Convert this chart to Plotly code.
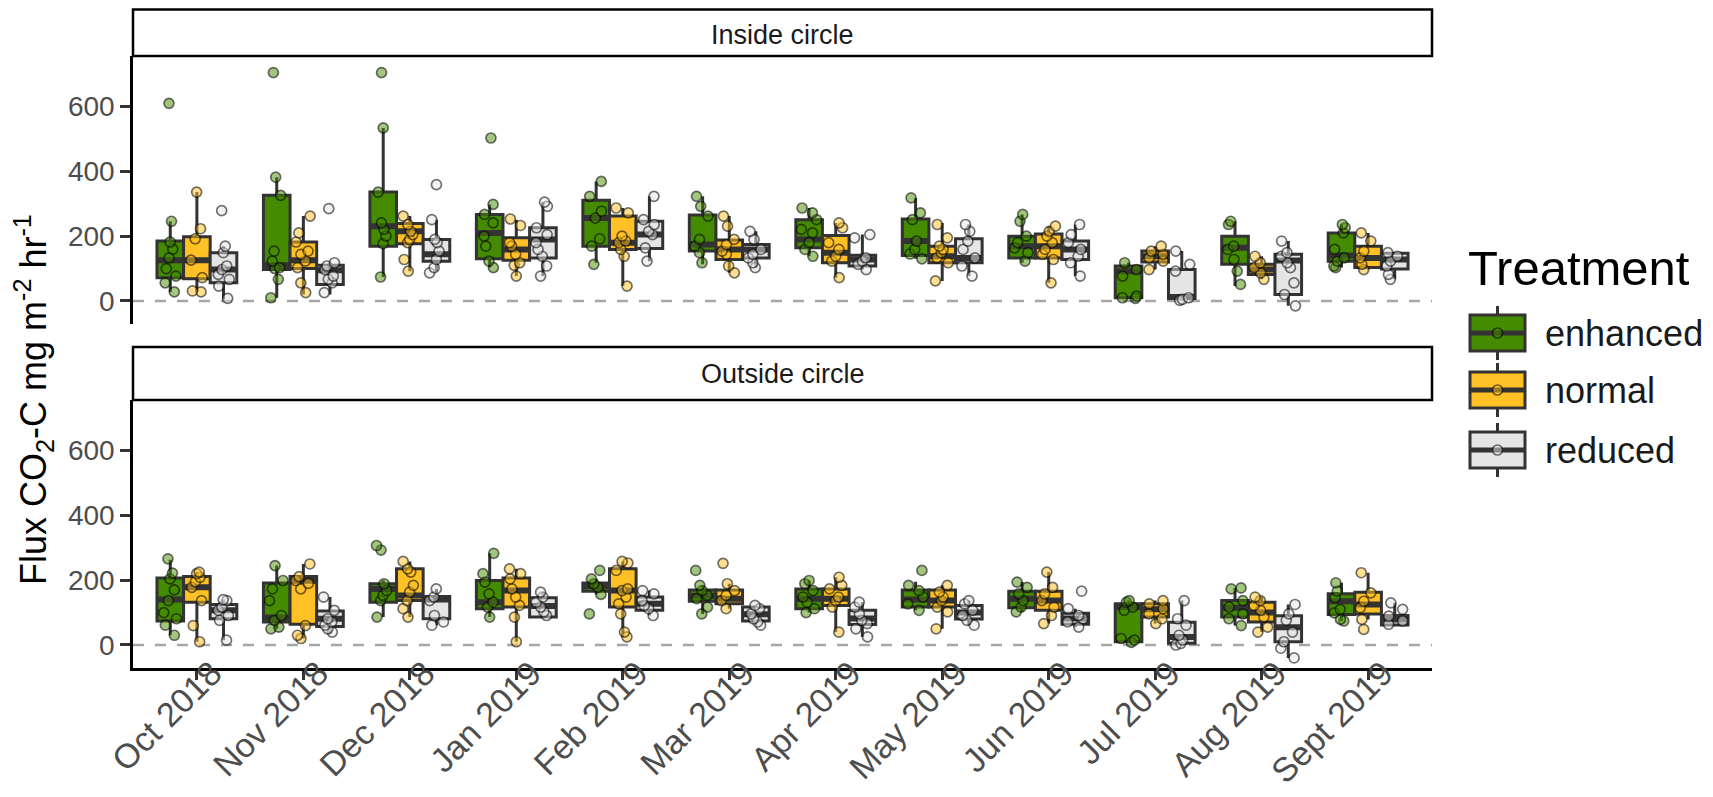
import plotly.graph_objects as go

# page body adds an 8 px offset; the figure is sized to fit the 1713x797 window
OFF = 8
W, H = 1713 - 2 * OFF, 797 - 2 * OFF

months = ["Oct 2018", "Nov 2018", "Dec 2018", "Jan 2019", "Feb 2019", "Mar 2019",
          "Apr 2019", "May 2019", "Jun 2019", "Jul 2019", "Aug 2019", "Sept 2019"]
treatments = ["enhanced", "normal", "reduced"]
box_fills = ["#458B00", "#FFC125", "#E5E5E5"]
point_fills = ["rgba(69,139,0,0.5)", "rgba(255,193,37,0.5)", "rgba(229,229,229,0.5)"]
panel_titles = ["Inside circle", "Outside circle"]
y_ticks = [0, 200, 400, 600]
y_title = "Flux CO<sub>2</sub>-C mg m<sup>-2</sup> hr<sup>-1</sup>"
legend_title = "Treatment"

# box statistics per month: [lower whisker, q1, median, q3, upper whisker]
inside_enhanced_box = [[28, 72, 126, 185, 246], [10, 97, 110, 326, 382], [74, 169, 231, 336, 534],
                       [103, 130, 210, 267, 298], [118, 169, 256, 311, 369], [113, 154, 174, 265, 323],
                       [138, 164, 190, 251, 287], [130, 140, 185, 253, 318], [118, 133, 169, 200, 267],
                       [5, 10, 92, 108, 118], [46, 113, 164, 200, 246], [103, 123, 140, 210, 236]]
inside_normal_box = [[28, 69, 126, 198, 336], [20, 100, 126, 182, 262], [92, 177, 215, 239, 262],
                     [77, 126, 159, 195, 251], [46, 159, 180, 262, 287], [87, 128, 159, 188, 262],
                     [72, 118, 149, 202, 241], [62, 118, 138, 169, 241], [56, 133, 169, 207, 231],
                     [97, 120, 138, 154, 169], [67, 82, 97, 113, 138], [97, 103, 133, 169, 210]]
inside_reduced_box = [[5, 56, 97, 149, 169], [20, 51, 95, 110, 118], [92, 123, 144, 190, 251],
                      [77, 133, 190, 226, 305], [123, 162, 205, 246, 323], [103, 133, 159, 174, 215],
                      [97, 108, 128, 141, 205], [77, 118, 133, 192, 236], [77, 128, 159, 185, 236],
                      [0, 8, 12, 97, 154], [-15, 20, 125, 144, 185], [67, 99, 128, 147, 150]]
outside_enhanced_box = [[30, 74, 140, 207, 263], [50, 71, 85, 191, 245], [86, 132, 173, 189, 200],
                        [86, 112, 132, 199, 283], [156, 166, 181, 191, 204], [96, 135, 152, 170, 184],
                        [100, 112, 143, 173, 199], [107, 117, 140, 170, 195], [102, 115, 143, 166, 194],
                        [5, 10, 117, 127, 137], [60, 86, 115, 137, 176], [74, 94, 135, 158, 192]]
outside_normal_box = [[10, 132, 178, 211, 225], [20, 64, 198, 211, 250], [86, 137, 153, 235, 258],
                      [10, 117, 168, 207, 235], [25, 117, 168, 235, 258], [112, 127, 143, 170, 189],
                      [40, 122, 143, 173, 209], [50, 117, 137, 170, 184], [66, 107, 137, 166, 225],
                      [66, 86, 110, 127, 137], [40, 71, 100, 132, 148], [79, 96, 125, 163, 223]]
outside_reduced_box = [[15, 81, 107, 125, 140], [35, 57, 81, 105, 148], [61, 81, 140, 150, 173],
                       [82, 86, 120, 146, 163], [91, 107, 127, 148, 168], [61, 74, 95, 117, 122],
                       [25, 63, 82, 107, 132], [61, 80, 100, 122, 137], [55, 64, 82, 98, 112],
                       [0, 5, 25, 70, 137], [-40, 10, 55, 90, 125], [62, 62, 79, 91, 130]]

# individual measurements per month
inside_enhanced_pts = [[610, 246, 182, 160, 133, 100, 77, 56, 28], [705, 382, 326, 154, 123, 103, 100, 67, 10],
                       [705, 534, 336, 241, 221, 200, 177, 74], [503, 298, 267, 241, 200, 169, 123, 103],
                       [369, 323, 277, 256, 192, 169, 113], [323, 292, 262, 190, 169, 149, 118],
                       [287, 272, 251, 221, 210, 180, 159, 138], [318, 272, 251, 185, 159, 145, 130],
                       [267, 246, 200, 180, 164, 149, 123], [118, 97, 77, 15, 10, 8],
                       [246, 236, 169, 159, 128, 92, 51], [236, 226, 210, 159, 133, 123, 108, 103]]
inside_normal_pts = [[336, 223, 192, 126, 72, 31, 28], [262, 210, 182, 154, 144, 123, 103, 56, 26],
                     [262, 236, 215, 205, 190, 180, 128, 92], [253, 233, 180, 169, 144, 118, 110, 77],
                     [287, 272, 200, 185, 180, 159, 138, 46], [262, 231, 190, 174, 154, 144, 108, 87],
                     [241, 226, 180, 159, 138, 123, 72], [236, 195, 169, 159, 149, 133, 118, 62],
                     [231, 215, 200, 180, 159, 144, 128, 56], [169, 154, 144, 133, 123, 97],
                     [138, 118, 103, 87, 67], [210, 185, 154, 133, 113, 97]]
inside_reduced_pts = [[279, 169, 149, 108, 97, 82, 67, 46, 8], [285, 118, 108, 97, 77, 67, 56, 26],
                      [359, 251, 190, 180, 154, 128, 103, 87], [305, 292, 226, 205, 180, 159, 138, 108, 77],
                      [323, 251, 236, 215, 205, 164, 123], [215, 190, 159, 144, 133, 118, 103],
                      [205, 195, 133, 123, 113, 97], [236, 215, 185, 159, 133, 108, 77],
                      [236, 205, 180, 159, 138, 118, 77], [154, 113, 92, 10, 5, 2],
                      [185, 149, 138, 118, 103, 56, 20, -15], [149, 138, 123, 108, 82, 67]]
outside_enhanced_pts = [[266, 222, 204, 170, 137, 100, 81, 61, 30], [245, 199, 173, 137, 91, 76, 55, 50],
                        [307, 293, 189, 168, 153, 137, 86], [283, 220, 194, 158, 132, 117, 86],
                        [230, 204, 189, 178, 156, 96], [230, 184, 168, 153, 143, 117, 96],
                        [199, 189, 168, 148, 132, 112, 100], [230, 184, 168, 148, 127, 107],
                        [194, 178, 158, 137, 117, 102], [137, 132, 117, 107, 20, 15, 8],
                        [176, 173, 137, 117, 96, 81, 60], [192, 166, 146, 110, 99, 79, 74]]
outside_normal_pts = [[225, 220, 209, 195, 178, 137, 60, 10], [250, 211, 199, 190, 173, 60, 30, 20],
                      [258, 235, 225, 184, 163, 137, 112, 86], [235, 220, 204, 173, 148, 122, 86, 10],
                      [258, 253, 230, 173, 168, 148, 127, 96, 40, 25], [252, 189, 168, 153, 137, 112],
                      [209, 184, 173, 148, 137, 117, 40], [184, 163, 148, 137, 117, 102, 50],
                      [225, 178, 158, 137, 117, 91, 66], [137, 127, 112, 96, 81, 66],
                      [148, 137, 122, 107, 86, 55, 40], [223, 161, 135, 115, 79, 48]]
outside_reduced_pts = [[140, 137, 117, 107, 91, 76, 15], [148, 107, 81, 71, 61, 50, 40],
                       [173, 148, 137, 91, 71, 61], [163, 148, 132, 117, 102, 91],
                       [168, 158, 137, 122, 112, 91], [122, 112, 96, 81, 71, 61],
                       [132, 117, 96, 76, 66, 50, 25], [137, 127, 107, 91, 76, 61],
                       [166, 112, 91, 81, 71, 55], [137, 81, 61, 30, 15, 5, 0],
                       [125, 96, 76, 40, 10, -10, -40], [130, 110, 89, 74, 64]]

panels_box = [[inside_enhanced_box, inside_normal_box, inside_reduced_box],
              [outside_enhanced_box, outside_normal_box, outside_reduced_box]]
panels_pts = [[inside_enhanced_pts, inside_normal_pts, inside_reduced_pts],
              [outside_enhanced_pts, outside_normal_pts, outside_reduced_pts]]

# ---------------- layout geometry (window pixels) ----------------
def px(x):
    return (x - OFF) / W

def py(y):
    return 1 - (y - OFF) / H

FONT = "Liberation Sans, Arial, sans-serif"
DARK = "#333333"
XD = [px(133), px(1432)]
panel_px = [(56, 324), (400, 668)]
strip_px = [(9.5, 56), (347, 400)]
y_range = [-71, 756]

fig = go.Figure()

for p in range(2):
    xa = "x" if p == 0 else "x2"
    ya = "y" if p == 0 else "y2"
    for t, name in enumerate(treatments):
        stats = panels_box[p][t]
        lo = [s[0] for s in stats]
        q1 = [s[1] for s in stats]
        med = [s[2] for s in stats]
        q3 = [s[3] for s in stats]
        hi = [s[4] for s in stats]
        fig.add_trace(go.Box(
            x=months, q1=q1, median=med, q3=q3, lowerfence=lo, upperfence=hi,
            boxpoints=False, fillcolor=box_fills[t], line=dict(color=DARK, width=3),
            whiskerwidth=0, offsetgroup=name, name=name, showlegend=False,
            xaxis=xa, yaxis=ya, hoverinfo="skip"))
        # thick median band
        fig.add_trace(go.Box(
            x=months, q1=med, median=med, q3=med, lowerfence=med, upperfence=med,
            boxpoints=False, fillcolor=DARK, line=dict(color=DARK, width=6),
            whiskerwidth=0, offsetgroup=name, name=name, showlegend=False,
            xaxis=xa, yaxis=ya, hoverinfo="skip"))
    for t, name in enumerate(treatments):
        xs, ys = [], []
        for m, vals in zip(months, panels_pts[p][t]):
            xs += [m] * len(vals)
            ys += vals
        fig.add_trace(go.Box(
            x=xs, y=ys, boxpoints="all", jitter=0.6, pointpos=0,
            fillcolor="rgba(0,0,0,0)", line=dict(width=0, color="rgba(0,0,0,0)"),
            whiskerwidth=0, offsetgroup=name, name=name, showlegend=False,
            marker=dict(size=10, color=point_fills[t],
                        line=dict(width=1.7, color="rgba(0,0,0,0.55)")),
            xaxis=xa, yaxis=ya, hoveron="points"))

axis_common = dict(showgrid=False, zeroline=False, automargin=False)
yax = dict(range=y_range, tickvals=y_ticks, ticks="outside", ticklen=10, tickwidth=2.5,
           tickcolor=DARK, showline=True, linecolor="black", linewidth=2.5,
           tickfont=dict(family=FONT, size=28, color="#4D4D4D"), **axis_common)

fig.update_layout(
    width=W, height=H, margin=dict(l=0, r=0, t=0, b=0), autosize=False,
    paper_bgcolor="white", plot_bgcolor="white",
    boxmode="group", boxgap=0.25, boxgroupgap=0,
    showlegend=False,
    xaxis=dict(domain=XD, anchor="y", type="category", categoryorder="array",
               categoryarray=months, range=[-0.6, 11.6], showline=False,
               showticklabels=False, ticks="", **axis_common),
    xaxis2=dict(domain=XD, anchor="y2", type="category", categoryorder="array",
                categoryarray=months, range=[-0.6, 11.6], matches="x",
                showline=True, linecolor="black", linewidth=2.5,
                ticks="outside", ticklen=9, tickwidth=2.5, tickcolor=DARK,
                tickangle=-45, ticklabelstandoff=-40, ticklabelshift=15,
                tickfont=dict(family=FONT, size=34, color="#4D4D4D"),
                **axis_common),
    yaxis=dict(domain=[py(panel_px[0][1]), py(panel_px[0][0])], anchor="x", **yax),
    yaxis2=dict(domain=[py(panel_px[1][1]), py(panel_px[1][0])], anchor="x2", **yax),
)

shapes = []
annotations = []
for p in range(2):
    ydom = "y" if p == 0 else "y2"
    xdom = "x domain" if p == 0 else "x2 domain"
    shapes.append(dict(type="line", xref=xdom, yref=ydom, x0=0, x1=1, y0=0, y1=0,
                       line=dict(color="#A6A6A6", width=2.5, dash="11px,11px"), layer="below"))
    s0, s1 = strip_px[p]
    shapes.append(dict(type="rect", xref="paper", yref="paper", x0=XD[0], x1=XD[1],
                       y0=py(s1), y1=py(s0), fillcolor="white",
                       line=dict(color="black", width=2.5)))
    annotations.append(dict(text=panel_titles[p], xref="paper", yref="paper",
                            x=(XD[0] + XD[1]) / 2, y=py((s0 + s1) / 2 + (2 if p == 0 else 0)),
                            xanchor="center", yanchor="middle", showarrow=False,
                            font=dict(family=FONT, size=27, color="#1A1A1A")))

annotations.append(dict(text=y_title, xref="paper", yref="paper", x=px(33),
                        y=py(400), textangle=-90,
                        xanchor="center", yanchor="middle", showarrow=False,
                        font=dict(family=FONT, size=36, color="black")))

# legend (drawn as boxplot keys like the reference)
annotations.append(dict(text=legend_title, xref="paper", yref="paper", x=px(1466), y=py(268),
                        xanchor="left", yanchor="middle", showarrow=False,
                        font=dict(family=FONT, size=49, color="black")))
key_centers = [333, 390, 450]
for t, name in enumerate(treatments):
    cy = key_centers[t]
    kx0, kx1 = 1470, 1525
    kc = (kx0 + kx1) / 2
    shapes.append(dict(type="line", xref="paper", yref="paper", x0=px(kc), x1=px(kc),
                       y0=py(cy - 27), y1=py(cy + 27), line=dict(color=DARK, width=3)))
    shapes.append(dict(type="rect", xref="paper", yref="paper", x0=px(kx0), x1=px(kx1),
                       y0=py(cy + 18), y1=py(cy - 18), fillcolor=box_fills[t],
                       line=dict(color=DARK, width=3)))
    shapes.append(dict(type="line", xref="paper", yref="paper", x0=px(kx0), x1=px(kx1),
                       y0=py(cy), y1=py(cy), line=dict(color=DARK, width=5)))
    shapes.append(dict(type="circle", xref="paper", yref="paper", x0=px(kc - 5), x1=px(kc + 5),
                       y0=py(cy + 5), y1=py(cy - 5), fillcolor=point_fills[t],
                       line=dict(color="rgba(0,0,0,0.55)", width=1.7)))
    annotations.append(dict(text=name, xref="paper", yref="paper", x=px(1543), y=py(cy),
                            xanchor="left", yanchor="middle", showarrow=False,
                            font=dict(family=FONT, size=36, color="#1A1A1A")))

fig.update_layout(shapes=shapes, annotations=annotations)
fig.write_html("out.html")
